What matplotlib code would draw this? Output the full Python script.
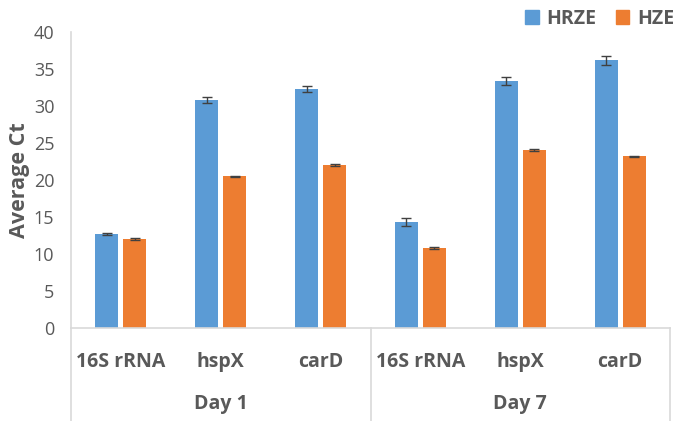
import numpy as np
import matplotlib
matplotlib.use('Agg')
import matplotlib.pyplot as plt
from matplotlib.patches import Patch

plt.rcParams['font.family'] = ['Open Sans', 'DejaVu Sans']

genes = ['16S rRNA', 'hspX', 'carD', '16S rRNA', 'hspX', 'carD']
days = ['Day 1', 'Day 7']
hrze = [12.7, 30.8, 32.3, 14.3, 33.4, 36.2]
hrze_err = [0.1, 0.4, 0.4, 0.5, 0.5, 0.6]
hze = [12.0, 20.5, 22.0, 10.8, 24.1, 23.2]
hze_err = [0.1, 0.1, 0.1, 0.1, 0.15, 0.05]

blue = '#5B9BD5'
orange = '#ED7D31'
grey = '#595959'
line_c = '#D9D9D9'

W, H = 685, 421
fig = plt.figure(figsize=(W / 100, H / 100), dpi=100)
ax = fig.add_axes([71 / W, (H - 328) / H, 599 / W, 296 / H])

x = np.arange(len(genes))
bw = 0.23
ekw = dict(ecolor='#404040', elinewidth=1.0, capsize=3.5, capthick=1.0)
ax.bar(x - 0.14, hrze, bw, yerr=hrze_err, color=blue, error_kw=ekw, label='HRZE')
ax.bar(x + 0.14, hze, bw, yerr=hze_err, color=orange, error_kw=ekw, label='HZE')

ax.set_xlim(-0.5, 5.5)
ax.set_ylim(0, 40)
ax.set_yticks(range(0, 41, 5))
ax.tick_params(axis='y', length=0, labelsize=13, labelcolor=grey, pad=12)
ax.set_xticks(x)
ax.set_xticklabels(genes, fontsize=14, fontweight='bold', color=grey)
ax.tick_params(axis='x', length=0, pad=17)
ax.set_ylabel('Average Ct', fontsize=15.5, fontweight='bold', color=grey, labelpad=3)

for s in ['top', 'right', 'left']:
    ax.spines[s].set_visible(False)
ax.spines['bottom'].set_color(line_c)
ax.spines['bottom'].set_linewidth(1.2)

# group separators below axis
ybot = -93 / 296
for xv in [-0.5, 2.5, 5.5]:
    ax.plot([xv, xv], [0, ybot * 40], color=line_c, lw=1.2, clip_on=False)
ax.plot([-0.5, -0.5], [0, 40], color=line_c, lw=1.2, clip_on=False)

for i, d in enumerate(days):
    ax.text(1 + 3 * i, -76 / 296 * 40, d, ha='center', va='center',
            fontsize=14, fontweight='bold', color=grey)

handles = [Patch(color=blue, label='HRZE'), Patch(color=orange, label='HZE')]
fig.legend(handles=handles, loc='upper right', bbox_to_anchor=(1.01, 1.02), ncol=2,
           frameon=False, handlelength=0.7, handleheight=0.7, handletextpad=0.4,
           columnspacing=1.0, prop={'size': 14, 'weight': 'bold'}, labelcolor=grey)

fig.savefig('out.png', dpi=100)
